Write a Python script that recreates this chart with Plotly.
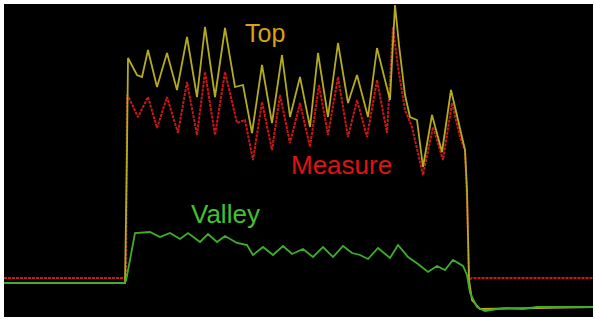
import plotly.graph_objects as go

# Time axis (sample positions) and amplitudes for each trace
top_x = [4,125,127,128,137,142,148,157,167,177,187,197,205,215,225,235,243,252,262,272,
         282,290,300,310,318,328,338,348,357,368,377,390,395,399,405,410,417,423,432,442,
         451,460,465,467,469,472,480,595]
top_y = [39,39,172,264,247,245,272,235,269,232,285,225,295,225,294,235,237,189,257,199,
         267,205,245,195,269,205,279,219,247,205,274,222,317,277,227,205,202,155,207,170,
         232,194,172,132,42,22,13,15]

measure_x = [4,126,127,130,138,148,157,167,178,187,197,205,215,225,237,245,253,262,272,280,
             290,300,310,319,328,338,348,357,367,377,387,393,398,405,412,420,423,433,443,452,
             460,465,467,469,472,595]
measure_y = [44,44,227,222,205,225,194,225,189,240,187,250,187,250,199,202,162,220,172,227,
             179,219,175,237,187,245,185,222,185,242,189,295,255,212,195,162,147,195,162,219,
             185,172,122,42,44,44]

valley_x = [4,124,126,135,150,160,170,180,188,200,208,217,225,237,247,253,263,273,283,292,
            303,313,323,333,343,352,360,368,378,390,398,408,418,428,437,445,453,463,467,470,
            477,485,497,507,523,537,595]
valley_y = [39,39,41,89,90,85,89,83,89,80,88,80,86,79,77,67,75,67,76,68,
            73,65,75,65,76,69,67,63,74,64,77,65,58,50,56,52,62,56,47,29,
            15,11,13,14,13,15,15]

labels = ["Top", "Measure", "Valley"]
label_x = [265, 341, 225]
label_y = [289, 157, 108]

fig = go.Figure()
fig.add_trace(go.Scatter(x=measure_x, y=measure_y, mode="lines", name="Measure",
                         line=dict(color="#C81818", width=2, dash="3px,1px")))
fig.add_trace(go.Scatter(x=top_x, y=top_y, mode="lines", name="Top",
                         line=dict(color="#B4AC1E", width=1.8)))
fig.add_trace(go.Scatter(x=valley_x, y=valley_y, mode="lines", name="Valley",
                         line=dict(color="#3FAE2A", width=1.8)))

label_colors = ["#D9A312", "#E01212", "#44C22E"]
label_sizes = [25, 26, 26]
for t, lx, ly, c, s in zip(labels, label_x, label_y, label_colors, label_sizes):
    fig.add_annotation(x=lx, y=ly, text=t, showarrow=False,
                       font=dict(family="Liberation Sans, Arial", size=s, color=c),
                       xanchor="center", yanchor="middle")

fig.update_layout(
    width=595, height=322,
    margin=dict(l=4, r=2, t=4, b=5),
    paper_bgcolor="white", plot_bgcolor="black",
    showlegend=False,
    xaxis=dict(range=[4, 593], visible=False, fixedrange=True),
    yaxis=dict(range=[5, 318], visible=False, fixedrange=True),
)
fig.write_html("out.html", config={"displayModeBar": False})
